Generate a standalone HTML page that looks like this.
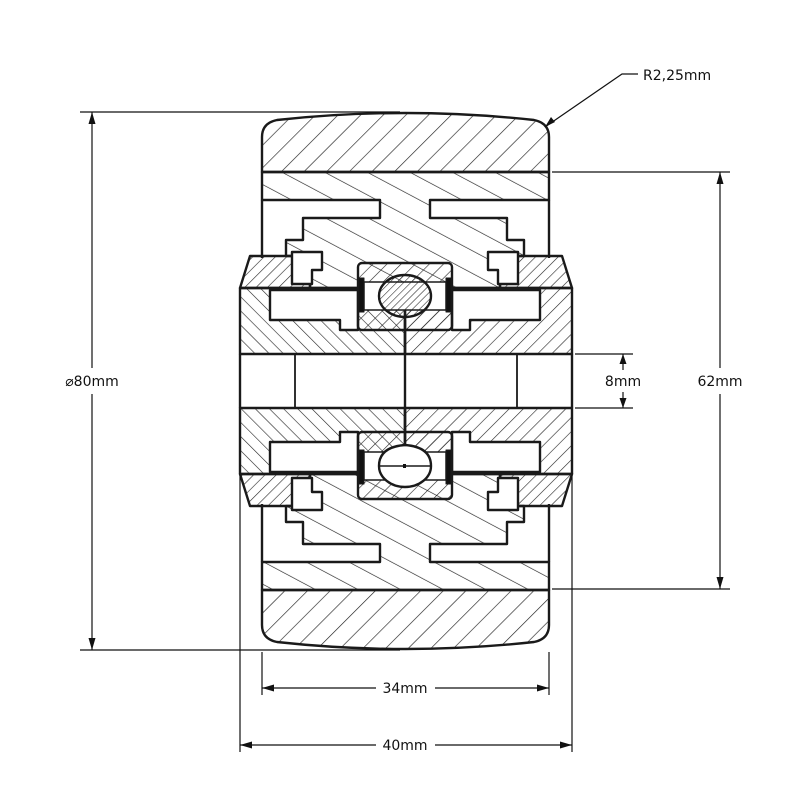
<!DOCTYPE html>
<html><head><meta charset="utf-8"><style>
html,body{margin:0;padding:0;background:#fff}
svg{display:block}
text{font-family:"DejaVu Sans","Liberation Sans",sans-serif;font-size:14px;fill:#111}
</style></head><body>
<svg width="800" height="800" viewBox="0 0 800 800" xmlns="http://www.w3.org/2000/svg">
<defs>
<pattern id="h1" patternUnits="userSpaceOnUse" width="16" height="16" patternTransform="rotate(45)"><line x1="0" y1="0" x2="0" y2="16" stroke="#222" stroke-width="1.3"/></pattern>
<pattern id="h2" patternUnits="userSpaceOnUse" width="20" height="20" patternTransform="rotate(-62)"><line x1="0" y1="0" x2="0" y2="20" stroke="#222" stroke-width="1.3"/></pattern>
<pattern id="h3" patternUnits="userSpaceOnUse" width="8" height="8" patternTransform="rotate(45)"><line x1="0" y1="0" x2="0" y2="8" stroke="#222" stroke-width="1.2"/></pattern>
<pattern id="h4" patternUnits="userSpaceOnUse" width="10" height="10" patternTransform="rotate(-45)"><line x1="0" y1="0" x2="0" y2="10" stroke="#222" stroke-width="1.2"/></pattern>
<pattern id="h5" patternUnits="userSpaceOnUse" width="10" height="10" patternTransform="rotate(45)"><line x1="0" y1="0" x2="0" y2="10" stroke="#222" stroke-width="1.2"/></pattern>
<pattern id="h6" patternUnits="userSpaceOnUse" width="5" height="5" patternTransform="rotate(45)"><line x1="0" y1="0" x2="0" y2="5" stroke="#222" stroke-width="1.1"/></pattern>
<pattern id="m1" patternUnits="userSpaceOnUse" width="16" height="16" patternTransform="rotate(-45)"><line x1="0" y1="0" x2="0" y2="16" stroke="#222" stroke-width="1.3"/></pattern>
<pattern id="m2" patternUnits="userSpaceOnUse" width="20" height="20" patternTransform="rotate(62)"><line x1="0" y1="0" x2="0" y2="20" stroke="#222" stroke-width="1.3"/></pattern>
<pattern id="m3" patternUnits="userSpaceOnUse" width="8" height="8" patternTransform="rotate(-45)"><line x1="0" y1="0" x2="0" y2="8" stroke="#222" stroke-width="1.2"/></pattern>
<pattern id="m4" patternUnits="userSpaceOnUse" width="10" height="10" patternTransform="rotate(45)"><line x1="0" y1="0" x2="0" y2="10" stroke="#222" stroke-width="1.2"/></pattern>
<pattern id="m5" patternUnits="userSpaceOnUse" width="10" height="10" patternTransform="rotate(-45)"><line x1="0" y1="0" x2="0" y2="10" stroke="#222" stroke-width="1.2"/></pattern>
</defs>
<g stroke="#1a1a1a" stroke-width="2.4" stroke-linejoin="round">
  <path d="M262,172 L262,137 Q262,123 277,120 Q405,106 534,120 Q549,123 549,137 L549,172 Z" fill="url(#h1)"/>
  <path d="M262,172 L549,172 L549,200 L430,200 L430,218 L507,218 L507,240 L524,240 L524,256 L500,256 L500,288 L310,288 L310,256 L286,256 L286,240 L303,240 L303,218 L380,218 L380,200 L262,200 Z" fill="url(#h2)"/>
  <line x1="262" y1="200" x2="262" y2="258"/><line x1="549" y1="200" x2="549" y2="258"/>
  <path d="M250,256 L310,256 L310,288 L240,288 Z" fill="url(#h3)"/>
  <path d="M500,256 L562,256 L572,288 L500,288 Z" fill="url(#h3)"/>
  <path d="M292,252 L322,252 L322,270 L312,270 L312,284 L292,284 Z" fill="#fff"/>
  <path d="M488,252 L518,252 L518,284 L498,284 L498,270 L488,270 Z" fill="#fff"/>
  <path d="M240,288 L405,288 L405,354 L240,354 Z" fill="url(#h4)"/>
  <path d="M405,288 L572,288 L572,354 L405,354 Z" fill="url(#h5)"/>
  <path d="M270,290 L358,290 L358,330 L340,330 L340,320 L270,320 Z" fill="#fff"/>
  <path d="M452,290 L540,290 L540,320 L470,320 L470,330 L452,330 Z" fill="#fff"/>
  <rect x="358" y="263" width="94" height="67" rx="4" fill="url(#h5)"/>
  <rect x="364" y="282" width="82" height="28" fill="#fff" stroke-width="1.5"/>
  <rect x="359" y="278" width="5" height="34" fill="#111" stroke-width="1"/>
  <rect x="446" y="278" width="5" height="34" fill="#111" stroke-width="1"/>
  <ellipse cx="405" cy="296" rx="26" ry="21" fill="url(#h6)"/>
</g>
<g stroke="#1a1a1a" stroke-width="2.4" stroke-linejoin="round" transform="matrix(1 0 0 -1 0 762)">
  <path d="M262,172 L262,137 Q262,123 277,120 Q405,106 534,120 Q549,123 549,137 L549,172 Z" fill="url(#m1)"/>
  <path d="M262,172 L549,172 L549,200 L430,200 L430,218 L507,218 L507,240 L524,240 L524,256 L500,256 L500,288 L310,288 L310,256 L286,256 L286,240 L303,240 L303,218 L380,218 L380,200 L262,200 Z" fill="url(#m2)"/>
  <line x1="262" y1="200" x2="262" y2="258"/><line x1="549" y1="200" x2="549" y2="258"/>
  <path d="M250,256 L310,256 L310,288 L240,288 Z" fill="url(#m3)"/>
  <path d="M500,256 L562,256 L572,288 L500,288 Z" fill="url(#m3)"/>
  <path d="M292,252 L322,252 L322,270 L312,270 L312,284 L292,284 Z" fill="#fff"/>
  <path d="M488,252 L518,252 L518,284 L498,284 L498,270 L488,270 Z" fill="#fff"/>
  <path d="M240,288 L405,288 L405,354 L240,354 Z" fill="url(#m4)"/>
  <path d="M405,288 L572,288 L572,354 L405,354 Z" fill="url(#m5)"/>
  <path d="M270,290 L358,290 L358,330 L340,330 L340,320 L270,320 Z" fill="#fff"/>
  <path d="M452,290 L540,290 L540,320 L470,320 L470,330 L452,330 Z" fill="#fff"/>
  <rect x="358" y="263" width="94" height="67" rx="4" fill="url(#m5)"/>
  <rect x="364" y="282" width="82" height="28" fill="#fff" stroke-width="1.5"/>
  <rect x="359" y="278" width="5" height="34" fill="#111" stroke-width="1"/>
  <rect x="446" y="278" width="5" height="34" fill="#111" stroke-width="1"/>
  <path d="M379,296 A26,21 0 0 1 431,296 Q431,315 405,317 Q379,315 379,296 Z" fill="#fff"/>
  <line x1="379" y1="296" x2="431" y2="296" stroke-width="1.5"/>
  <rect x="403" y="294" width="3" height="4" fill="#111" stroke="none"/>
</g>
<g stroke="#1a1a1a" stroke-width="2.4">
  <line x1="240" y1="354" x2="240" y2="408"/>
  <line x1="572" y1="354" x2="572" y2="408"/>
  <line x1="295" y1="354" x2="295" y2="408" stroke-width="1.8"/>
  <line x1="517" y1="354" x2="517" y2="408" stroke-width="1.8"/>
  <line x1="405" y1="320" x2="405" y2="442"/>
</g>
<g stroke="#111" stroke-width="1.2" fill="none">
  <line x1="80" y1="112" x2="400" y2="112"/>
  <line x1="80" y1="650" x2="400" y2="650"/>
  <line x1="92" y1="112" x2="92" y2="368"/>
  <line x1="92" y1="394" x2="92" y2="650"/>
  <line x1="552" y1="172" x2="730" y2="172"/>
  <line x1="552" y1="589" x2="730" y2="589"/>
  <line x1="720" y1="172" x2="720" y2="368"/>
  <line x1="720" y1="394" x2="720" y2="589"/>
  <line x1="575" y1="354" x2="633" y2="354"/>
  <line x1="575" y1="408" x2="633" y2="408"/>
  <line x1="623" y1="354" x2="623" y2="370"/>
  <line x1="623" y1="392" x2="623" y2="408"/>
  <line x1="262" y1="652" x2="262" y2="695"/>
  <line x1="549" y1="652" x2="549" y2="695"/>
  <line x1="262" y1="688" x2="376" y2="688"/>
  <line x1="435" y1="688" x2="549" y2="688"/>
  <line x1="240" y1="475" x2="240" y2="752"/>
  <line x1="572" y1="475" x2="572" y2="752"/>
  <line x1="240" y1="745" x2="376" y2="745"/>
  <line x1="435" y1="745" x2="572" y2="745"/>
  <polyline points="545,127 622,74 638,74"/>
</g>
<g fill="#111">
  <path d="M92,112 l-3.5,12 h7 Z"/><path d="M92,650 l-3.5,-12 h7 Z"/>
  <path d="M720,172 l-3.5,12 h7 Z"/><path d="M720,589 l-3.5,-12 h7 Z"/>
  <path d="M623,354 l-3.5,10 h7 Z"/><path d="M623,408 l-3.5,-10 h7 Z"/>
  <path d="M262,688 l12,-3.5 v7 Z"/><path d="M549,688 l-12,-3.5 v7 Z"/>
  <path d="M240,745 l12,-3.5 v7 Z"/><path d="M572,745 l-12,-3.5 v7 Z"/>
  <path d="M545,127 l6,-10 l4,5 Z"/>
</g>
<text x="92" y="386" text-anchor="middle">⌀80mm</text>
<text x="720" y="386" text-anchor="middle">62mm</text>
<text x="623" y="386" text-anchor="middle">8mm</text>
<text x="405" y="693" text-anchor="middle">34mm</text>
<text x="405" y="750" text-anchor="middle">40mm</text>
<text x="643" y="80">R2,25mm</text>
</svg>
</body></html>
